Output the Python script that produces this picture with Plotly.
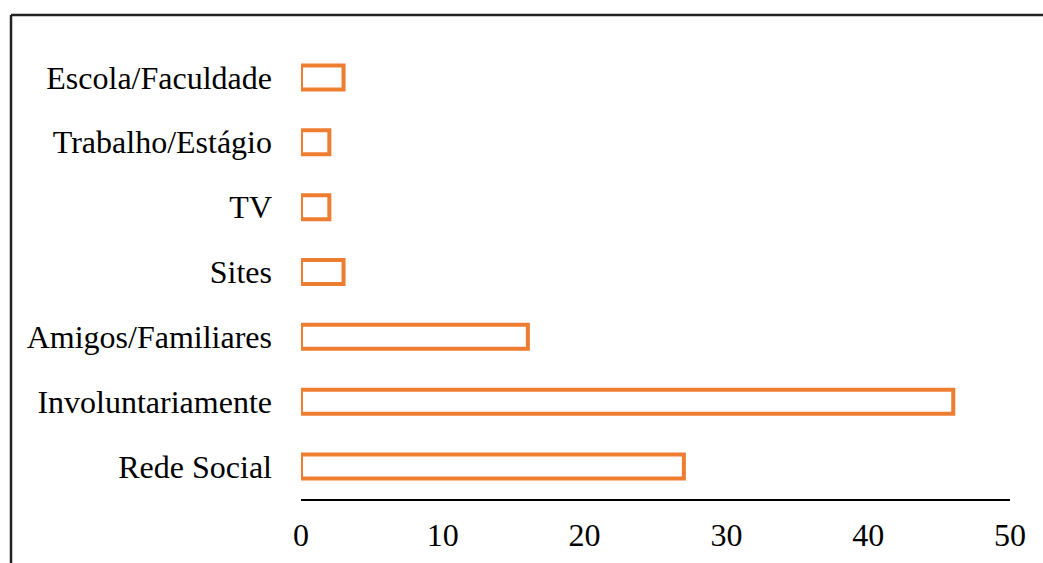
import plotly.graph_objects as go

categories = ["Rede Social", "Involuntariamente", "Amigos/Familiares", "Sites", "TV",
              "Trabalho/Estágio", "Escola/Faculdade"]
values = [27, 46, 16, 3, 2, 2, 3]
x_ticks = [0, 10, 20, 30, 40, 50]

FONT = "Liberation Serif"

fig = go.Figure(go.Bar(
    y=categories,
    x=values,
    orientation="h",
    width=0.37,
    marker=dict(color="white", line=dict(color="#ED7D31", width=4)),
))

L, R, T, B = 301, 33, 45, 64
W, H = 1043, 563
pw, ph = W - L - R, H - T - B

def px_x(p):
    return (p - L) / pw

def px_y(p):
    return (H - B - p) / ph

fig.update_layout(
    width=W, height=H,
    margin=dict(l=L, r=R, t=T, b=B, pad=0, autoexpand=False),
    paper_bgcolor="white", plot_bgcolor="white",
    font=dict(family=FONT, size=32, color="black"),
    showlegend=False,
    xaxis=dict(range=[0, 50], tickvals=x_ticks, showgrid=False, zeroline=False,
               showline=True, linecolor="black", linewidth=2, ticks="",
               automargin=False, ticklabelstandoff=7, fixedrange=True),
    yaxis=dict(categoryorder="array", categoryarray=categories, range=[-0.5, 6.5],
               showgrid=False, zeroline=False, showline=False, ticks="",
               automargin=False, ticklabelstandoff=28, fixedrange=True),
    shapes=[
        dict(type="line", xref="paper", yref="paper", x0=px_x(11), x1=px_x(1060),
             y0=px_y(15), y1=px_y(15), line=dict(color="#222", width=2.5)),
        dict(type="line", xref="paper", yref="paper", x0=px_x(11), x1=px_x(11),
             y0=px_y(15), y1=px_y(580), line=dict(color="#222", width=2.5)),
    ],
)

fig.write_html("out.html")
